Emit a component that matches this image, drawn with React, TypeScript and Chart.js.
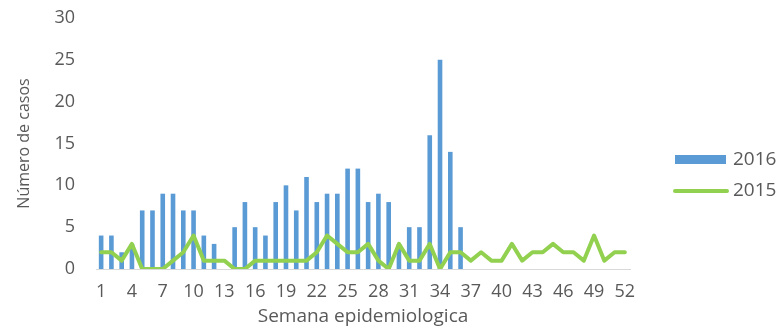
import React, { useEffect, useRef } from "react";
import { Chart, registerables } from "chart.js";

Chart.register(...registerables);

const weeks: string[] = Array.from({ length: 52 }, (_, i) => String(i + 1));

const cases2016: (number | null)[] = [
  4, 4, 2, 3, 7, 7, 9, 9, 7, 7, 4, 3, 0, 5, 8, 5, 4, 8, 10, 7, 11, 8, 9, 9, 12, 12,
  8, 9, 8, 3, 5, 5, 16, 25, 14, 5,
];

const cases2015: number[] = [
  2, 2, 1, 3, 0, 0, 0, 1, 2, 4, 1, 1, 1, 0, 0, 1, 1, 1, 1, 1, 1, 2, 4, 3, 2, 2,
  3, 1, 0, 3, 1, 1, 3, 0, 2, 2, 1, 2, 1, 1, 3, 1, 2, 2, 3, 2, 2, 1, 4, 1, 2, 2,
];

const yTicks: number[] = [0, 5, 10, 15, 20, 25, 30];

const BLUE = "#5B9BD5";
const GREEN = "#92D050";
const TEXT = "#595959";
const FONT = "'Open Sans', 'DejaVu Sans', sans-serif";

const legendPlugin = {
  id: "customLegend",
  afterDraw(chart: any) {
    const { ctx, chartArea } = chart;
    const x0 = chartArea.right + 43;
    const ds = chart.data.datasets;
    ctx.save();
    ctx.font = `19px ${FONT}`;
    ctx.textBaseline = "middle";
    ctx.textAlign = "left";
    // bar entry
    ctx.fillStyle = ds[0].backgroundColor;
    ctx.fillRect(x0 + 2, 155, 51, 9);
    ctx.fillStyle = TEXT;
    ctx.fillText(ds[0].label, x0 + 60, 160);
    // line entry
    ctx.strokeStyle = ds[1].borderColor;
    ctx.lineWidth = 4;
    ctx.lineCap = "round";
    ctx.beginPath();
    ctx.moveTo(x0 + 2, 191);
    ctx.lineTo(x0 + 54, 191);
    ctx.stroke();
    ctx.fillStyle = TEXT;
    ctx.fillText(ds[1].label, x0 + 60, 191);
    ctx.restore();
  },
};

export default function App() {
  const canvasRef = useRef<HTMLCanvasElement | null>(null);

  useEffect(() => {
    if (!canvasRef.current) return;
    const chart = new Chart(canvasRef.current, {
      type: "bar",
      data: {
        labels: weeks,
        datasets: [
          {
            type: "bar",
            label: "2016",
            data: cases2016,
            backgroundColor: BLUE,
            borderWidth: 0,
            categoryPercentage: 0.9,
            barPercentage: 0.5,
            order: 2,
          },
          {
            type: "line",
            label: "2015",
            data: cases2015,
            borderColor: GREEN,
            backgroundColor: GREEN,
            borderWidth: 4,
            pointRadius: 0,
            tension: 0,
            borderJoinStyle: "round",
            borderCapStyle: "round",
            order: 1,
          } as any,
        ],
      },
      options: {
        animation: false,
        responsive: true,
        maintainAspectRatio: false,
        layout: { padding: { left: 0, right: 153, top: 18, bottom: 0 } },
        plugins: {
          legend: { display: false },
          tooltip: { enabled: false },
        },
        scales: {
          x: {
            type: "category",
            offset: true,
            grid: { display: false, drawTicks: false },
            border: { display: true, color: "#d9d9d9", width: 1 },
            ticks: {
              autoSkip: false,
              maxRotation: 0,
              minRotation: 0,
              padding: 12,
              color: TEXT,
              font: { family: FONT, size: 18 },
              callback: (_v: any, i: number) => (i % 3 === 0 ? weeks[i] : ""),
            },
            title: {
              display: true,
              text: "Semana epidemiologica",
              color: TEXT,
              font: { family: FONT, size: 19 },
              padding: { top: 0, bottom: 0 },
            },
            afterFit: (s: any) => {
              s.height = 59;
            },
          },
          y: {
            min: 0,
            max: 30,
            grid: { display: false, drawTicks: true, tickLength: 21 },
            border: { display: false },
            afterBuildTicks: (s: any) => {
              s.ticks = yTicks.map((v) => ({ value: v }));
            },
            ticks: {
              padding: 0,
              color: TEXT,
              font: { family: FONT, size: 18 },
            },
            title: {
              display: true,
              text: "Número de casos",
              color: TEXT,
              font: { family: FONT, size: 16 },
              padding: { top: 15, bottom: 0 },
            },
            afterFit: (s: any) => {
              s.width = 96;
            },
          },
        },
      },
      plugins: [legendPlugin],
    });
    return () => chart.destroy();
  }, []);

  return (
    <div
      style={{
        position: "fixed",
        left: 0,
        top: 0,
        width: 783,
        height: 328,
        background: "#ffffff",
      }}
    >
      <canvas ref={canvasRef} />
    </div>
  );
}
